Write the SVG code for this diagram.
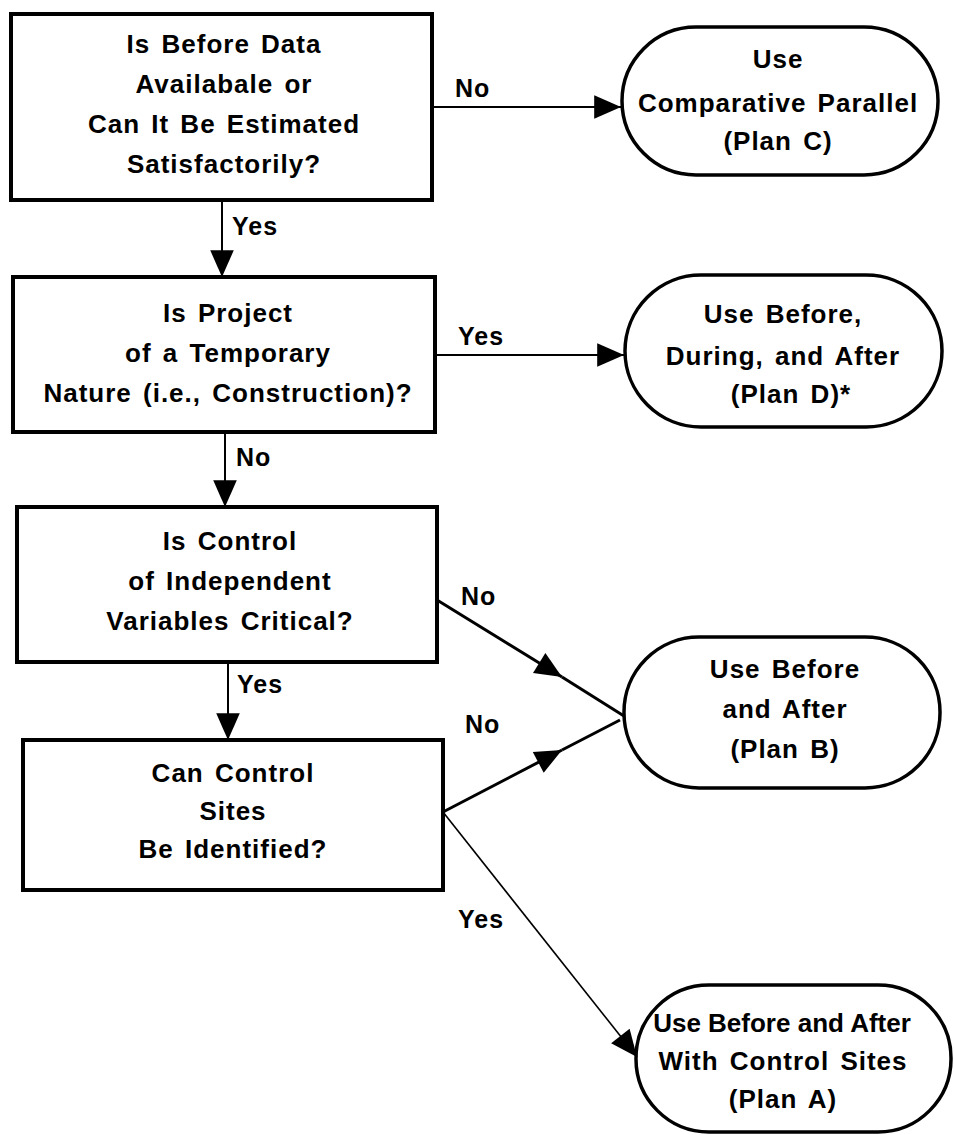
<svg xmlns="http://www.w3.org/2000/svg" width="954" height="1135" viewBox="0 0 954 1135">
<defs>
<style>
.box{fill:#fff;stroke:#000;stroke-width:4}
.term{fill:#fff;stroke:#000;stroke-width:3.5}
.t{font-family:"Liberation Sans",Arial,Helvetica,sans-serif;font-weight:bold;font-size:26px;letter-spacing:1px;word-spacing:3px;fill:#000;text-anchor:middle}
.lbl{font-family:"Liberation Sans",Arial,Helvetica,sans-serif;font-weight:bold;font-size:25px;letter-spacing:1px;fill:#000}
.c{fill:none;stroke:#000;stroke-width:2}
.ck{fill:none;stroke:#000;stroke-width:3}
.cn{fill:none;stroke:#000;stroke-width:1.6}
</style>
<marker id="ah" markerUnits="userSpaceOnUse" markerWidth="30" markerHeight="30" viewBox="-26 -13 28 26" refX="0" refY="0" orient="auto">
<path d="M-25,-11 L0,0 L-25,11 z" fill="#000"/>
</marker>
</defs>
<rect width="954" height="1135" fill="#fff"/>

<g id="q1">
<rect class="box" x="11" y="14" width="421" height="186"/>
<text class="t" x="224" y="53">Is Before Data</text>
<text class="t" x="224" y="93">Availabale or</text>
<text class="t" x="224" y="133">Can It Be Estimated</text>
<text class="t" x="224" y="173">Satisfactorily?</text>
</g>

<g id="q2">
<rect class="box" x="13" y="277" width="422" height="155"/>
<text class="t" x="228" y="322">Is Project</text>
<text class="t" x="228" y="362">of a Temporary</text>
<text class="t" x="228" y="402">Nature (i.e., Construction)?</text>
</g>

<g id="q3">
<rect class="box" x="17" y="507" width="420" height="155"/>
<text class="t" x="230" y="550">Is Control</text>
<text class="t" x="230" y="590">of Independent</text>
<text class="t" x="230" y="630">Variables Critical?</text>
</g>

<g id="q4">
<rect class="box" x="23" y="740" width="420" height="150"/>
<text class="t" x="233" y="782">Can Control</text>
<text class="t" x="233" y="820">Sites</text>
<text class="t" x="233" y="858">Be Identified?</text>
</g>

<g id="planC">
<rect class="term" x="622" y="27" width="316" height="148" rx="74" ry="74"/>
<text class="t" x="778" y="68">Use</text>
<text class="t" x="778" y="112">Comparative Parallel</text>
<text class="t" x="778" y="150">(Plan C)</text>
</g>

<g id="planD">
<rect class="term" x="625" y="275" width="317" height="152" rx="76" ry="76"/>
<text class="t" x="783" y="323">Use Before,</text>
<text class="t" x="783" y="365">During, and After</text>
<text class="t" x="791" y="403">(Plan D)*</text>
</g>

<g id="planB">
<rect class="term" x="624" y="637" width="316" height="151" rx="75" ry="75"/>
<text class="t" x="785" y="678">Use Before</text>
<text class="t" x="785" y="718">and After</text>
<text class="t" x="785" y="758">(Plan B)</text>
</g>

<g id="planA">
<rect class="term" x="636" y="985" width="315" height="147" rx="73" ry="73"/>
<text class="t" x="782" y="1032" style="letter-spacing:0;word-spacing:0">Use Before and After</text>
<text class="t" x="783" y="1070">With Control Sites</text>
<text class="t" x="783" y="1108">(Plan A)</text>
</g>

<g id="connectors">
<path class="c" d="M432,107 L621,107" marker-end="url(#ah)"/>
<path class="c" d="M222,200 L222,277" marker-end="url(#ah)"/>
<path class="c" d="M435,355 L624,355" marker-end="url(#ah)"/>
<path class="c" d="M225,432 L225,507" marker-end="url(#ah)"/>
<path class="c" d="M228,662 L228,740" marker-end="url(#ah)"/>
<path class="ck" d="M437,600 L562,677" marker-end="url(#ah)"/>
<path class="ck" d="M562,677 L624,716"/>
<path class="ck" d="M443,812 L562,750" marker-end="url(#ah)"/>
<path class="ck" d="M562,750 L620,720"/>
<path class="cn" d="M443,812 L637,1057" marker-end="url(#ah)"/>
</g>

<g id="labels">
<text class="lbl" x="455" y="97">No</text>
<text class="lbl" x="232" y="235">Yes</text>
<text class="lbl" x="458" y="345">Yes</text>
<text class="lbl" x="236" y="466">No</text>
<text class="lbl" x="237" y="693">Yes</text>
<text class="lbl" x="461" y="605">No</text>
<text class="lbl" x="465" y="733">No</text>
<text class="lbl" x="458" y="928">Yes</text>
</g>
</svg>
